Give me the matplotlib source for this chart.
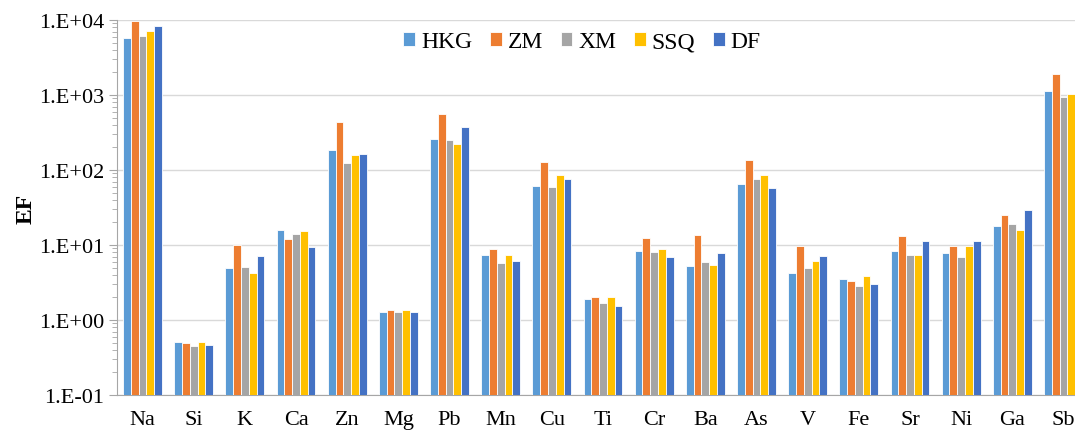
import matplotlib
matplotlib.use("Agg")
import matplotlib.pyplot as plt
from matplotlib.ticker import FuncFormatter, LogLocator, NullFormatter
import numpy as np

plt.rcParams['font.family'] = ['Liberation Serif', 'DejaVu Serif']

elements = ["Na", "Si", "K", "Ca", "Zn", "Mg", "Pb", "Mn", "Cu", "Ti",
            "Cr", "Ba", "As", "V", "Fe", "Sr", "Ni", "Ga", "Sb"]

hkg = [5700, 0.51, 4.9, 15.8, 187, 1.27, 262, 7.4, 61, 1.9,
       8.4, 5.25, 66, 4.2, 3.5, 8.4, 7.8, 17.7, 1120]
zm = [9800, 0.49, 10.0, 12.1, 432, 1.36, 552, 8.75, 129, 2.03,
      12.5, 13.5, 135, 9.6, 3.34, 13.1, 9.6, 24.9, 1920]
xm = [6100, 0.45, 5.1, 14.0, 125, 1.27, 254, 5.75, 59, 1.67,
      8.1, 6.0, 76, 4.9, 2.87, 7.4, 6.85, 18.9, 940]
ssq = [7200, 0.51, 4.2, 15.4, 158, 1.36, 222, 7.4, 87, 2.03,
       8.75, 5.4, 87, 6.2, 3.86, 7.4, 9.6, 16.0, 1020]
df = [8300, 0.47, 7.1, 9.3, 163, 1.27, 371, 6.2, 75, 1.55,
      6.85, 7.8, 57.5, 7.1, 3.05, 11.4, 11.4, 29.3, 1000]

series = [("HKG", hkg, "#5B9BD5"), ("ZM", zm, "#ED7D31"), ("XM", xm, "#A5A5A5"),
          ("SSQ", ssq, "#FFC000"), ("DF", df, "#4472C4")]

fig = plt.figure(figsize=(10.75, 4.35), dpi=100)
# plot area runs past the right edge (the reference is cropped there)
ax = fig.add_axes([117 / 1075, 39 / 435, 972 / 1075, 375 / 435])

x = np.arange(len(elements))
w = 0.152
for i, (name, vals, col) in enumerate(series):
    ax.bar(x + (i - 2) * w, vals, width=w, color=col, edgecolor="white",
           linewidth=0.6, label=name, zorder=3)

ax.set_yscale("log")
ax.set_ylim(0.1, 10000)
ax.set_xlim(-0.5, len(elements) - 0.5)
ax.yaxis.set_major_locator(LogLocator(base=10, numticks=10))
ax.yaxis.set_minor_locator(LogLocator(base=10, subs=np.arange(2, 10), numticks=10))
ax.yaxis.set_minor_formatter(NullFormatter())
ax.yaxis.set_major_formatter(FuncFormatter(lambda v, p: "1.E%+03d" % int(round(np.log10(v)))))

ax.set_xticks(x)
ax.set_xticklabels(elements)
ax.tick_params(axis="x", length=0, labelsize=16, pad=11)
ax.tick_params(axis="y", which="major", length=6, color="#A6A6A6", labelsize=16, pad=3)
ax.tick_params(axis="y", which="minor", length=3.5, color="#A6A6A6")

ax.grid(axis="y", which="major", color="#D9D9D9", linewidth=1, zorder=0)
for s in ["top", "right"]:
    ax.spines[s].set_visible(False)
ax.spines["left"].set_color("#A6A6A6")
ax.spines["bottom"].set_color("#A6A6A6")

ax.set_ylabel("EF", fontsize=17, fontweight="bold", labelpad=2)

ax.legend(loc="center", bbox_to_anchor=(582 / 1075, 1 - 43 / 435),
          bbox_transform=fig.transFigure, ncol=5, frameon=False,
          fontsize=17, handlelength=0.5, handleheight=0.5,
          handletextpad=0.25, columnspacing=0.75)

fig.savefig("out.png", dpi=100)
